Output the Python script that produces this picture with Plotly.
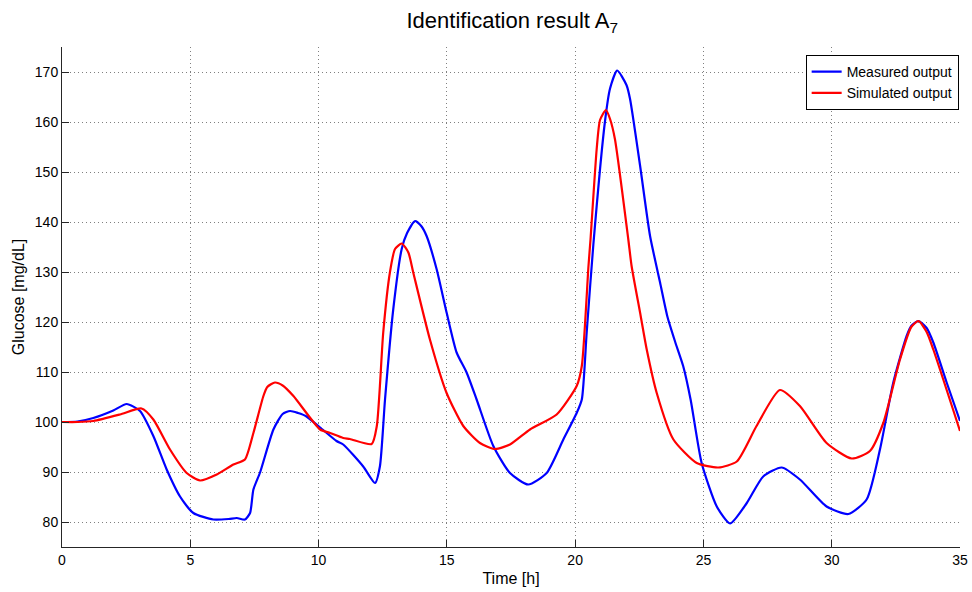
import plotly.graph_objects as go

# Measured output (blue)
t_meas = [0, 0.6, 1.22, 2.0, 2.52, 3.04, 3.56, 4.08, 4.6, 5.12, 5.9, 6.5, 6.81, 7.13, 7.33, 7.46,
          7.72, 8.24, 8.6, 8.89, 9.2, 9.5, 10.06, 10.7, 10.96, 11.74, 12.2, 12.39, 12.59, 12.91,
          13.24, 13.45, 13.76, 14.0, 14.21, 14.6, 14.99, 15.38, 15.77, 16.16, 16.81, 17.46, 18.17,
          18.89, 19.54, 20.06, 20.26, 20.45, 20.71, 21.16, 21.36, 21.64, 22.0, 22.14,
          22.53, 22.92, 23.31, 23.6, 23.9, 24.21, 24.5, 24.93, 25.52, 26.04, 26.69, 27.33,
          28.05, 28.76, 29.8, 30.65, 31.36, 31.88, 32.4, 32.92, 33.1, 33.38, 33.7, 33.96,
          34.48, 35]
g_meas = [100, 100.1, 100.8, 102.3, 103.6, 102.2, 97.2, 90.5, 85.1, 81.8, 80.5, 80.6, 80.8, 80.5,
          81.8, 86.5, 89.9, 98.5, 101.6, 102.2, 101.8, 101.2, 98.9, 96.2, 95.5, 91.1, 87.8, 91.1,
          104.5, 122.5, 134.6, 137.8, 140.2, 139.2, 137.2, 130.6, 121.9, 113.9, 109.9, 104.5,
          95.2, 89.8, 87.5, 89.8, 96.5, 101.8, 104.5, 117.9, 135.5, 160.0, 166.7, 170.3,
          167.4, 164.6, 151.3, 137.2, 127.9, 121.0, 116.0, 111.2, 104.5, 91.8, 83.1, 79.7,
          83.8, 89.1, 90.9, 88.5, 83.1, 81.6, 84.5, 94.5, 107.9, 117.2, 119.2, 120.2, 118.8,
          115.9, 107.9, 100.2]

# Simulated output (red)
t_sim = [0, 0.6, 1.22, 2.26, 3.1, 3.56, 4.21, 4.86, 5.38, 6.03, 6.68, 7.13, 7.46, 7.85, 8.0, 8.3,
         8.6, 9.02, 10.06, 10.45, 10.96, 11.22, 12.07, 12.27, 12.52, 12.78, 12.98, 13.24, 13.5,
         13.69, 14.34, 14.99, 15.64, 16.29, 16.88, 17.46, 18.24, 19.28, 20.06, 20.26, 20.52,
         20.6, 20.84, 20.97, 21.2, 21.36, 21.55, 22.07, 22.2, 22.53, 22.79, 23.18, 23.83,
         24.74, 25.58, 26.3, 27.07, 27.98, 28.76, 29.8, 30.78, 31.49, 32.01, 32.66, 33.1,
         33.38, 33.7, 33.96, 35]
g_sim = [100, 100, 100.2, 101.5, 102.7, 100.5, 94.5, 89.8, 88.3, 89.5, 91.5, 92.5, 97.8, 105.2,
         107.0, 107.9, 107.3, 105.2, 98.5, 97.8, 96.8, 96.6, 95.6, 99.2, 117.9, 129.9, 134.6,
         135.7, 133.9, 129.9, 116.5, 105.8, 99.2, 95.8, 94.6, 95.5, 98.5, 101.5, 107.2, 111.2,
         131.2, 136.6, 154.6, 160.4, 162.4, 160.6, 156.6, 136.6, 131.2, 121.9, 114.5, 105.8,
         96.5, 91.8, 90.9, 92.1, 99.2, 106.4, 103.2, 95.8, 92.7, 94.2, 99.8, 112.5, 119.0,
         120.2, 118.0, 114.5, 98.2]

x_ticks = [0, 5, 10, 15, 20, 25, 30, 35]
y_ticks = [80, 90, 100, 110, 120, 130, 140, 150, 160, 170]

FONT = "Liberation Sans, Arial, Helvetica, sans-serif"

fig = go.Figure()
fig.add_trace(go.Scatter(x=t_meas, y=g_meas, mode="lines", name="Measured output",
                         line=dict(color="#0000ff", width=2.2, shape="spline", smoothing=0.6)))
fig.add_trace(go.Scatter(x=t_sim, y=g_sim, mode="lines", name="Simulated output",
                         line=dict(color="#ff0000", width=2.2, shape="spline", smoothing=0.6)))

axis_common = dict(
    showgrid=True, gridcolor="#808080", griddash="1px,3px", gridwidth=1,
    zeroline=False, showline=True, linecolor="#262626", linewidth=1,
    ticks="inside", ticklen=7, tickcolor="#262626", automargin=False,
    tickfont=dict(family=FONT, size=14, color="#000"),
)
fig.update_xaxes(range=[0, 35], tickvals=x_ticks,
                 title=dict(text="Time [h]", font=dict(family=FONT, size=16, color="#000"), standoff=6),
                 **axis_common)
fig.update_yaxes(range=[75, 175], tickvals=y_ticks,
                 title=dict(text="Glucose [mg/dL]", font=dict(family=FONT, size=16, color="#000"), standoff=6),
                 **axis_common)

fig.update_layout(
    width=972, height=592,
    margin=dict(l=62, r=12, t=47, b=45),
    paper_bgcolor="white", plot_bgcolor="white",
    title=dict(text="Identification result A<sub>7</sub>", x=0.527, xanchor="center",
               y=0.978, yanchor="top",
               font=dict(family=FONT, size=22, color="#000")),
    legend=dict(x=0.9985, y=0.984, xanchor="right", yanchor="top",
                bgcolor="white", bordercolor="#000", borderwidth=1,
                font=dict(family=FONT, size=14, color="#000"),
                tracegroupgap=0, itemwidth=30),
    showlegend=True,
)

fig.write_html("out.html", config={"displayModeBar": False},
               post_script="document.body.style.margin='0';document.body.style.overflow='hidden';")
